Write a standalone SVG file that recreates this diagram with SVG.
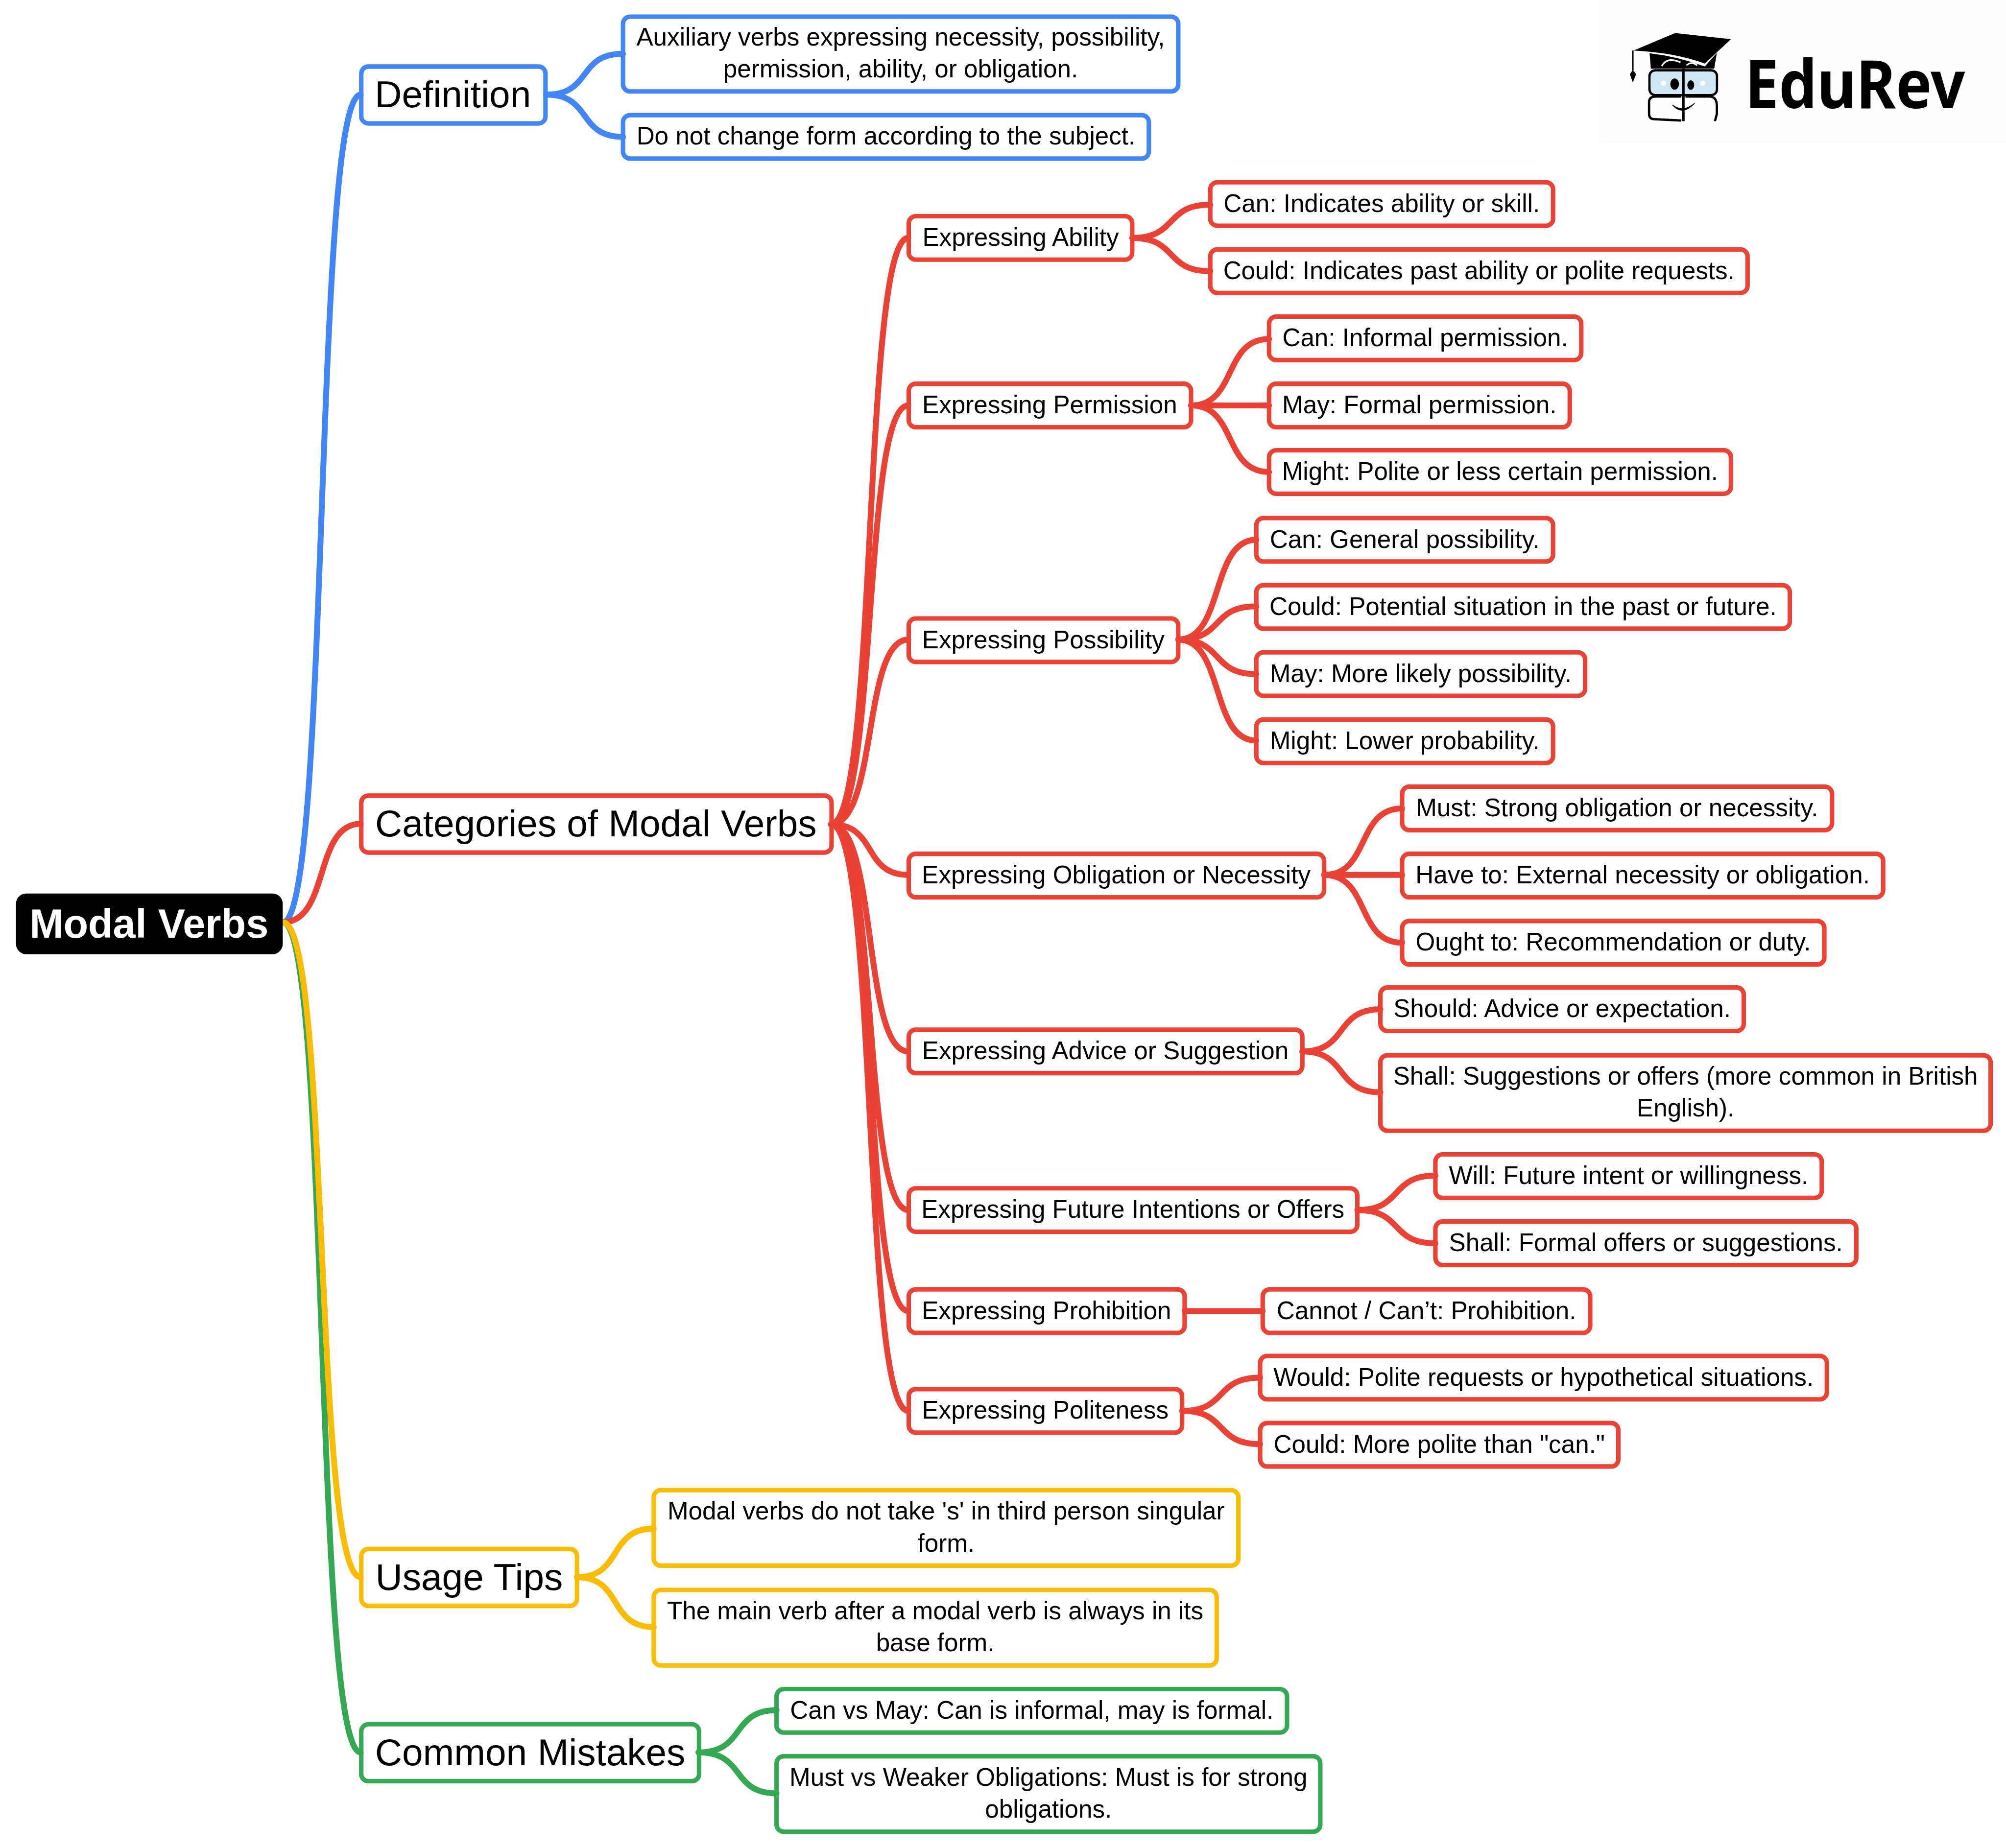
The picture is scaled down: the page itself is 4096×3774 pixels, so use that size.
<svg xmlns="http://www.w3.org/2000/svg" width="4096" height="3774" viewBox="0 0 4096 3774">
<style>
text{font-family:"Liberation Sans",Arial,sans-serif;text-anchor:middle;fill:#000}
.l1{font-size:29.3px}.l2{font-size:19.6px}
.root{font-size:31.7px;font-weight:700;fill:#fff}
rect.n{fill:#fff;stroke-width:3.5}
.b rect{stroke:#4285f4}.r rect{stroke:#ea4335}.y rect{stroke:#fbbc04}.g rect{stroke:#34a853}
#connectors path{fill:none;stroke-width:4.6;stroke-linecap:round}
path.eb{stroke:#4285f4}path.er{stroke:#ea4335}path.ey{stroke:#fbbc04}path.eg{stroke:#34a853}
</style>
<rect width="4096" height="3774" fill="#fff"/>
<g transform="scale(2.61224)">
<g id="logo">
<rect x="1252" y="0" width="316" height="112" fill="#fdfdfd"/>
<path d="M1309.4 25.8L1353 30.6L1332.6 49.7Q1309 41 1276.8 39.5Z" fill="#000"/>
<path d="M1289.4 41.6Q1311 44 1332.6 52L1342 41.3L1339.9 53.7H1290.4Z" fill="#000"/>
<path d="M1298.9 51.7Q1303 44 1313.6 48.8M1318.2 51.1Q1322 47.5 1326.6 51.1" fill="none" stroke="#fff" stroke-width="1.2"/>
<path d="M1276.3 39.5V55" stroke="#000" stroke-width="1.2" fill="none"/>
<path d="M1276.3 54.6L1278.9 58L1276.3 64.5L1274 58Z" fill="#000"/>
<rect x="1289.3" y="55" width="52.8" height="19.4" rx="4.5" fill="#cfe6f5" stroke="#000" stroke-width="1.8"/>
<path d="M1315.7 53.7V94.7" stroke="#000" stroke-width="2.2" fill="none"/>
<ellipse cx="1309" cy="65.7" rx="3.4" ry="4.4" fill="#000"/>
<ellipse cx="1321.6" cy="66.5" rx="2.7" ry="3.7" fill="#000"/>
<circle cx="1300.3" cy="65" r="2" fill="#fff"/><circle cx="1330.9" cy="65" r="2" fill="#fff"/>
<path d="M1314 75.5H1294Q1289 75.5 1289 80V89Q1289 93 1293 93.2L1314 94.2M1317.5 75.5H1337Q1342 76 1342 83V89L1340.5 94.7" fill="none" stroke="#000" stroke-width="1.8"/>
<path d="M1307.3 82Q1315 88.5 1324.6 80.8Q1315 91 1307.3 82Z" fill="#000" stroke="#000" stroke-width=".6"/>
<text x="1450" y="84.7" style="font-family:'Noto Sans',sans-serif;font-weight:700;font-size:52px" textLength="172" lengthAdjust="spacingAndGlyphs">EduRev</text>
</g>
<g id="n-definition" class="b"><rect class="n" x="282.4" y="52" width="144" height="44.5" rx="5.5"/><text class="l1" x="354" y="84">Definition</text></g>
<g id="n-def1" class="b"><rect class="n" x="487" y="13" width="434" height="58.5" rx="5.5"/><text class="l2" x="704" y="35.5">Auxiliary verbs expressing necessity, possibility,</text><text class="l2" x="704" y="60.5">permission, ability, or obligation.</text></g>
<g id="n-def2" class="b"><rect class="n" x="487" y="90" width="411" height="34" rx="5.5"/><text class="l2" x="692.5" y="113">Do not change form according to the subject.</text></g>
<g id="n-categories" class="r"><rect class="n" x="282.4" y="622" width="367.6" height="44.5" rx="5.5"/><text class="l1" x="465.8" y="654">Categories of Modal Verbs</text></g>
<g id="n-ability" class="r"><rect class="n" x="710.3" y="169" width="174.7" height="34" rx="5.5"/><text class="l2" x="797.8" y="192.2">Expressing Ability</text></g>
<g id="n-ability1" class="r"><rect class="n" x="946" y="142.5" width="268" height="34" rx="5.5"/><text class="l2" x="1080" y="165.7">Can: Indicates ability or skill.</text></g>
<g id="n-ability2" class="r"><rect class="n" x="946" y="195" width="420" height="34" rx="5.5"/><text class="l2" x="1156" y="218.2">Could: Indicates past ability or polite requests.</text></g>
<g id="n-permission" class="r"><rect class="n" x="710.3" y="300" width="220.7" height="34" rx="5.5"/><text class="l2" x="820.5" y="323.2">Expressing Permission</text></g>
<g id="n-permission1" class="r"><rect class="n" x="992" y="247.5" width="244" height="34" rx="5.5"/><text class="l2" x="1114" y="270.7">Can: Informal permission.</text></g>
<g id="n-permission2" class="r"><rect class="n" x="992" y="300" width="235" height="34" rx="5.5"/><text class="l2" x="1109.5" y="323.2">May: Formal permission.</text></g>
<g id="n-permission3" class="r"><rect class="n" x="992" y="352" width="361" height="34" rx="5.5"/><text class="l2" x="1172.5" y="375.2">Might: Polite or less certain permission.</text></g>
<g id="n-possibility" class="r"><rect class="n" x="710.3" y="483.5" width="210.7" height="34" rx="5.5"/><text class="l2" x="815.5" y="506.7">Expressing Possibility</text></g>
<g id="n-possibility1" class="r"><rect class="n" x="982" y="405" width="232" height="34" rx="5.5"/><text class="l2" x="1098" y="428.2">Can: General possibility.</text></g>
<g id="n-possibility2" class="r"><rect class="n" x="982" y="457.5" width="417" height="34" rx="5.5"/><text class="l2" x="1190.5" y="480.7">Could: Potential situation in the past or future.</text></g>
<g id="n-possibility3" class="r"><rect class="n" x="982" y="510" width="257" height="34" rx="5.5"/><text class="l2" x="1110.5" y="533.2">May: More likely possibility.</text></g>
<g id="n-possibility4" class="r"><rect class="n" x="982" y="562.5" width="232" height="34" rx="5.5"/><text class="l2" x="1098" y="585.7">Might: Lower probability.</text></g>
<g id="n-obligation" class="r"><rect class="n" x="710.3" y="667.5" width="324.7" height="34" rx="5.5"/><text class="l2" x="872.5" y="690.7">Expressing Obligation or Necessity</text></g>
<g id="n-obligation1" class="r"><rect class="n" x="1096" y="615" width="336" height="34" rx="5.5"/><text class="l2" x="1264" y="638.2">Must: Strong obligation or necessity.</text></g>
<g id="n-obligation2" class="r"><rect class="n" x="1096" y="667.5" width="376" height="34" rx="5.5"/><text class="l2" x="1284" y="690.7">Have to: External necessity or obligation.</text></g>
<g id="n-obligation3" class="r"><rect class="n" x="1096" y="720" width="330" height="34" rx="5.5"/><text class="l2" x="1261" y="743.2">Ought to: Recommendation or duty.</text></g>
<g id="n-advice" class="r"><rect class="n" x="710.3" y="805" width="307.7" height="34" rx="5.5"/><text class="l2" x="864" y="828.2">Expressing Advice or Suggestion</text></g>
<g id="n-advice1" class="r"><rect class="n" x="1079" y="772" width="284" height="34" rx="5.5"/><text class="l2" x="1221" y="795.2">Should: Advice or expectation.</text></g>
<g id="n-advice2" class="r"><rect class="n" x="1079" y="825" width="477" height="59" rx="5.5"/><text class="l2" x="1317.5" y="848">Shall: Suggestions or offers (more common in British</text><text class="l2" x="1317.5" y="873">English).</text></g>
<g id="n-future" class="r"><rect class="n" x="710.3" y="929" width="350.7" height="34" rx="5.5"/><text class="l2" x="885.5" y="952.2">Expressing Future Intentions or Offers</text></g>
<g id="n-future1" class="r"><rect class="n" x="1122" y="902.5" width="302" height="34" rx="5.5"/><text class="l2" x="1273" y="925.7">Will: Future intent or willingness.</text></g>
<g id="n-future2" class="r"><rect class="n" x="1122" y="955" width="329" height="34" rx="5.5"/><text class="l2" x="1286.5" y="978.2">Shall: Formal offers or suggestions.</text></g>
<g id="n-prohibition" class="r"><rect class="n" x="710.3" y="1008" width="215.7" height="34" rx="5.5"/><text class="l2" x="818" y="1031.2">Expressing Prohibition</text></g>
<g id="n-prohibition1" class="r"><rect class="n" x="987" y="1008" width="256" height="34" rx="5.5"/><text class="l2" x="1115" y="1031.2">Cannot / Can’t: Prohibition.</text></g>
<g id="n-politeness" class="r"><rect class="n" x="710.3" y="1086" width="213.7" height="34" rx="5.5"/><text class="l2" x="817" y="1109.2">Expressing Politeness</text></g>
<g id="n-politeness1" class="r"><rect class="n" x="985" y="1060" width="443" height="34" rx="5.5"/><text class="l2" x="1206.5" y="1083.2">Would: Polite requests or hypothetical situations.</text></g>
<g id="n-politeness2" class="r"><rect class="n" x="985" y="1112.5" width="280" height="34" rx="5.5"/><text class="l2" x="1125" y="1135.7">Could: More polite than "can."</text></g>
<g id="n-usage" class="y"><rect class="n" x="282.4" y="1211" width="168.6" height="44.5" rx="5.5"/><text class="l1" x="366.7" y="1243">Usage Tips</text></g>
<g id="n-usage1" class="y"><rect class="n" x="511" y="1165" width="457" height="59" rx="5.5"/><text class="l2" x="739.5" y="1188">Modal verbs do not take 's' in third person singular</text><text class="l2" x="739.5" y="1213">form.</text></g>
<g id="n-usage2" class="y"><rect class="n" x="511" y="1243" width="440" height="59" rx="5.5"/><text class="l2" x="731" y="1266">The main verb after a modal verb is always in its</text><text class="l2" x="731" y="1291">base form.</text></g>
<g id="n-mistakes" class="g"><rect class="n" x="282.4" y="1348" width="264" height="44.5" rx="5.5"/><text class="l1" x="414.4" y="1380">Common Mistakes</text></g>
<g id="n-mistakes1" class="g"><rect class="n" x="607" y="1320.5" width="399" height="34" rx="5.5"/><text class="l2" x="806.5" y="1343.7">Can vs May: Can is informal, may is formal.</text></g>
<g id="n-mistakes2" class="g"><rect class="n" x="607" y="1373" width="425" height="59" rx="5.5"/><text class="l2" x="819.5" y="1396">Must vs Weaker Obligations: Must is for strong</text><text class="l2" x="819.5" y="1421">obligations.</text></g>
<g id="connectors">
<path class="eb" d="M221 721C258 721 245 74 282 74"/>
<path class="er" d="M221 721C258 721 245 644 282 644"/>
<path class="eg" d="M221 721C258 721 245 1370 282 1370"/>
<path class="ey" d="M221 721C258 721 245 1233 282 1233"/>
<path class="eb" d="M427 74C463 74 451 42 487 42"/>
<path class="eb" d="M427 74C463 74 451 107 487 107"/>
<path class="er" d="M649.5 644.4C686 644.4 674 186 710 186"/>
<path class="er" d="M649.5 644.4C686 644.4 674 317 710 317"/>
<path class="er" d="M649.5 644.4C686 644.4 674 500 710 500"/>
<path class="er" d="M649.5 644.4C686 644.4 674 684 710 684"/>
<path class="er" d="M649.5 644.4C686 644.4 674 822 710 822"/>
<path class="er" d="M649.5 644.4C686 644.4 674 946 710 946"/>
<path class="er" d="M649.5 644.4C686 644.4 674 1025 710 1025"/>
<path class="er" d="M649.5 644.4C686 644.4 674 1103 710 1103"/>
<path class="er" d="M885 186C921 186 910 160 946 160"/>
<path class="er" d="M885 186C921 186 910 212 946 212"/>
<path class="er" d="M931 317C967 317 956 265 992 265"/>
<path class="er" d="M931 317H992"/>
<path class="er" d="M931 317C967 317 956 369 992 369"/>
<path class="er" d="M921 500C957 500 946 422 982 422"/>
<path class="er" d="M921 500C957 500 946 474 982 474"/>
<path class="er" d="M921 500C957 500 946 527 982 527"/>
<path class="er" d="M921 500C957 500 946 579 982 579"/>
<path class="er" d="M1035 684C1071 684 1060 632 1096 632"/>
<path class="er" d="M1035 684H1096"/>
<path class="er" d="M1035 684C1071 684 1060 737 1096 737"/>
<path class="er" d="M1018 822C1054 822 1043 789 1079 789"/>
<path class="er" d="M1018 822C1054 822 1043 854 1079 854"/>
<path class="er" d="M1061 946C1097 946 1086 919 1122 919"/>
<path class="er" d="M1061 946C1097 946 1086 972 1122 972"/>
<path class="er" d="M926 1025H987"/>
<path class="er" d="M924 1103C960 1103 949 1077 985 1077"/>
<path class="er" d="M924 1103C960 1103 949 1129 985 1129"/>
<path class="ey" d="M451 1233C487 1233 475 1195 511 1195"/>
<path class="ey" d="M451 1233C487 1233 475 1272 511 1272"/>
<path class="eg" d="M546 1370C583 1370 571 1337 607 1337"/>
<path class="eg" d="M546 1370C583 1370 571 1402 607 1402"/>
</g>
<g id="n-root"><rect x="12.5" y="698.5" width="208.5" height="47.5" rx="8" fill="#000"/><text class="root" x="116.5" y="733">Modal Verbs</text></g>
</g>
</svg>
